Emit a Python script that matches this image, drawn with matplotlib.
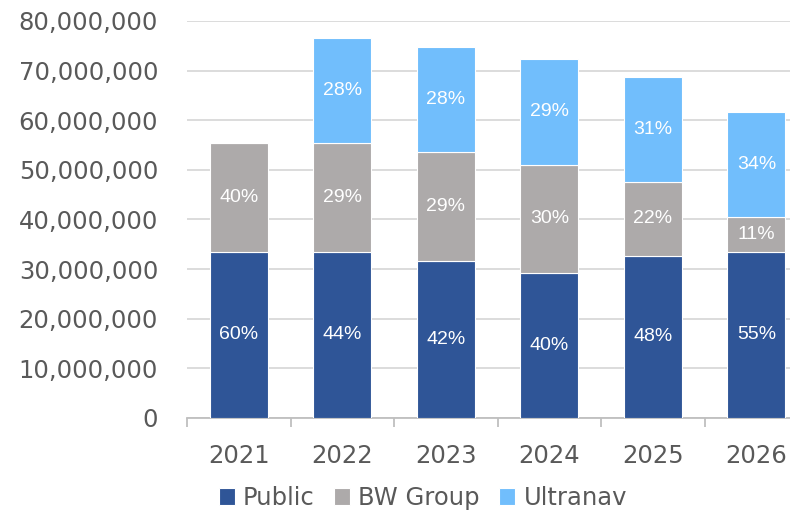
import matplotlib.pyplot as plt
import numpy as np
from matplotlib.ticker import FuncFormatter

years = ["2021", "2022", "2023", "2024", "2025", "2026"]
public = [33.5e6, 33.5e6, 31.7e6, 29.2e6, 32.7e6, 33.5e6]
bw_group = [21.9e6, 21.9e6, 21.9e6, 21.8e6, 14.9e6, 7.0e6]
ultranav = [0, 21.2e6, 21.2e6, 21.4e6, 21.2e6, 21.2e6]

public_pct = ["60%", "44%", "42%", "40%", "48%", "55%"]
bw_pct = ["40%", "29%", "29%", "30%", "22%", "11%"]
ultra_pct = ["", "28%", "28%", "29%", "31%", "34%"]

plt.rcParams["font.family"] = ["DejaVu Sans"]

fig = plt.figure(figsize=(7.9, 5.11), dpi=100)
# right edge of the plot runs past the figure, as in the source
ax = fig.add_axes([0.237, 0.182, 0.786, 0.777])

x = np.arange(len(years))
w = 0.56
pub = np.array(public)
bw = np.array(bw_group)
ul = np.array(ultranav)

series = [
    (pub, np.zeros(len(x)), "#2F5597", "Public", public_pct),
    (bw, pub, "#ADAAAA", "BW Group", bw_pct),
    (ul, pub + bw, "#71BEFC", "Ultranav", ultra_pct),
]
for vals, base, col, name, pcts in series:
    ax.bar(x, vals, w, bottom=base, color=col, edgecolor="white", linewidth=0.8,
           label=name, zorder=3)
    for xi, v, b, p in zip(x, vals, base, pcts):
        if v > 0 and p:
            ax.text(xi, b + v / 2, p, ha="center", va="center", color="white",
                    fontsize=14, family=["Liberation Sans", "DejaVu Sans"], zorder=4)

ax.set_ylim(0, 80e6)
ax.set_yticks(np.arange(0, 80e6 + 1, 10e6))
ax.yaxis.set_major_formatter(FuncFormatter(lambda v, p: f"{int(v):,}"))
ax.set_xlim(-0.5, len(x) - 0.5)
ax.set_xticks(x)
ax.set_xticklabels(years)
ax.set_xticks(np.arange(-0.5, len(x), 1), minor=True)

ax.grid(axis="y", color="#D9D9D9", linewidth=1.3, zorder=0)
for s in ["top", "right", "left"]:
    ax.spines[s].set_visible(False)
ax.spines["bottom"].set_color("#BFBFBF")
ax.spines["bottom"].set_linewidth(1.3)
ax.tick_params(axis="y", length=0, labelsize=17.5, labelcolor="#595959", pad=21)
ax.tick_params(axis="x", which="major", length=0, labelsize=17.5, labelcolor="#595959", pad=19)
ax.tick_params(axis="x", which="minor", length=6.5, color="#BFBFBF", width=1.3)

fig.legend(*ax.get_legend_handles_labels(), loc="center",
           bbox_to_anchor=(423 / 790, 1 - 498 / 511), ncol=3, frameon=False,
           fontsize=17.5, labelcolor="#595959", handlelength=0.66, handleheight=0.66,
           handletextpad=0.33, columnspacing=0.8, borderpad=0, borderaxespad=0)

fig.savefig("out.png", dpi=100)
